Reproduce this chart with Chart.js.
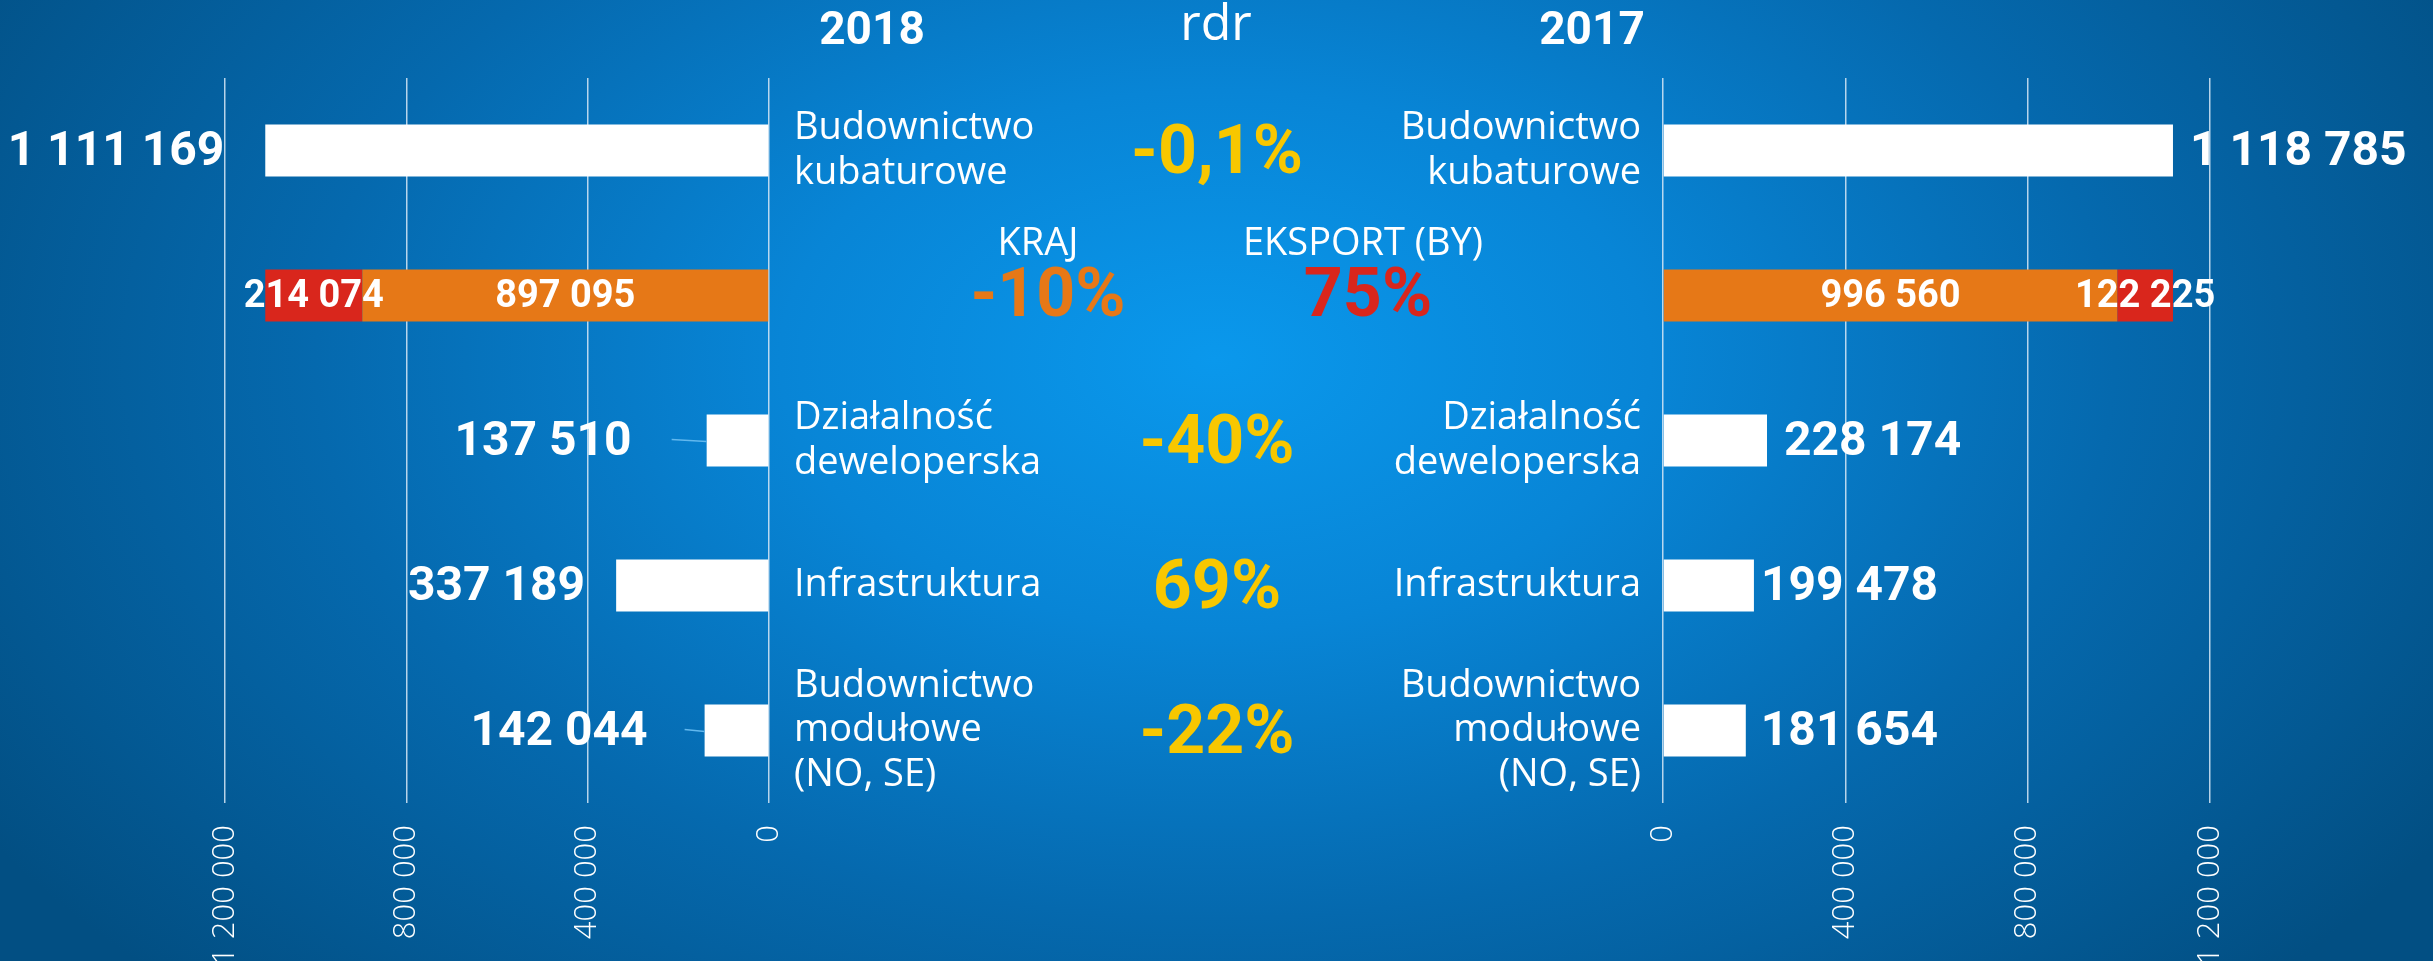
<!DOCTYPE html>
<html>
<head>
<meta charset="utf-8">
<script src="https://cdn.jsdelivr.net/npm/chart.js@4.4.1/dist/chart.umd.min.js"></script>
<style>
  html, body { margin: 0; padding: 0; }
  body {
    width: 2433px; height: 961px; overflow: hidden; position: relative;
    background: radial-gradient(ellipse 1450px 900px at 1215px 360px, #0a98ec 0%, #0885d6 30%, #0569ae 62%, #024f83 100%);
  }
  canvas { position: absolute; left: 0; top: 0; }
</style>
</head>
<body>
<canvas id="chart2018" width="2433" height="961"></canvas>
<canvas id="chart2017" width="2433" height="961"></canvas>
<script>
const categories = [['Budownictwo', 'kubaturowe'], '', ['Działalność', 'deweloperska'], 'Infrastruktura', ['Budownictwo', 'modułowe', '(NO, SE)']];
const seriesNames = ['KRAJ', 'EKSPORT (BY)'];
const total2018 = [1111169, null, 137510, 337189, 142044];
const kraj2018 = [null, 897095, null, null, null];
const eksport2018 = [null, 214074, null, null, null];
const total2017 = [1118785, null, 228174, 199478, 181654];
const kraj2017 = [null, 996560, null, null, null];
const eksport2017 = [null, 122225, null, null, null];
const xTicks = [0, 400000, 800000, 1200000];
const rdr = ['-0,1%', null, '-40%', '69%', '-22%'];
const rdrKraj = '-10%';
const rdrEksport = '75%';
const headers = ['2018', 'rdr', '2017'];

const WHITE = '#ffffff';
const ORANGE = '#e67817';
const RED = '#d9261c';
const YELLOW = '#f8c700';
const LIGHT = '"Open Sans", "DejaVu Sans", sans-serif';
const BOLD = 'Roboto, sans-serif';

const fmt = v => String(v).replace(/\B(?=(\d{3})+(?!\d))/g, ' ');

// labels next to / inside the bars
const valueLabels = {
  id: 'valueLabels',
  afterDatasetsDraw(chart, args, opts) {
    const ctx = chart.ctx;
    const dir = opts.side === 'left' ? -1 : 1;
    ctx.save();
    ctx.fillStyle = WHITE;
    ctx.textBaseline = 'middle';
    chart.data.datasets.forEach((ds, di) => {
      chart.getDatasetMeta(di).data.forEach((bar, i) => {
        const v = ds.data[i];
        if (v == null) return;
        if (ds.inside) {
          ctx.font = 'bold 38px ' + BOLD;
          ctx.textAlign = 'center';
          ctx.fillText(fmt(v), (bar.x + bar.base) / 2, bar.y + 2);
        } else {
          ctx.font = 'bold 48px ' + BOLD;
          ctx.textAlign = dir < 0 ? 'right' : 'left';
          ctx.fillText(fmt(v), bar.x + dir * opts.gaps[i], bar.y + 2);
          if (opts.leaders[i]) {
            ctx.strokeStyle = '#62b8ee';
            ctx.lineWidth = 1.5;
            ctx.beginPath();
            ctx.moveTo(bar.x + dir * opts.leaders[i], bar.y - 1);
            ctx.lineTo(bar.x, bar.y + 1);
            ctx.stroke();
          }
        }
      });
    });
    ctx.restore();
  }
};

// headers and year-on-year changes in the middle
const middleText = {
  id: 'middleText',
  afterDraw(chart) {
    const ctx = chart.ctx;
    const y = chart.scales.y;
    ctx.save();
    ctx.textAlign = 'center';
    ctx.textBaseline = 'middle';
    ctx.fillStyle = WHITE;
    ctx.font = 'bold 46px ' + BOLD;
    ctx.fillText(headers[0], 872, 32);
    ctx.fillText(headers[2], 1592, 32);
    ctx.font = '50px ' + LIGHT;
    ctx.fillText(headers[1], 1216, 26);

    ctx.font = 'bold 68px ' + BOLD;
    ctx.fillStyle = YELLOW;
    rdr.forEach((t, i) => {
      if (t) ctx.fillText(t, 1217, y.getPixelForValue(i) + 5);
    });
    const y2 = y.getPixelForValue(1);
    ctx.fillStyle = ORANGE;
    ctx.fillText(rdrKraj, 1048, y2 + 3);
    ctx.fillStyle = RED;
    ctx.fillText(rdrEksport, 1368, y2 + 3);
    ctx.fillStyle = WHITE;
    ctx.font = '38px ' + LIGHT;
    ctx.fillText(seriesNames[0], 1038, y2 - 51);
    ctx.fillText(seriesNames[1], 1363, y2 - 51);
    ctx.restore();
  }
};

function makeChart(id, total, kraj, eksport, side) {
  const left = side === 'left';
  return new Chart(document.getElementById(id), {
    type: 'bar',
    data: {
      labels: categories,
      datasets: [
        { label: 'razem', data: total, backgroundColor: WHITE },
        { label: seriesNames[0], data: kraj, backgroundColor: ORANGE, inside: true },
        { label: seriesNames[1], data: eksport, backgroundColor: RED, inside: true }
      ]
    },
    options: {
      indexAxis: 'y',
      responsive: false,
      animation: false,
      layout: { padding: left ? { left: 225, top: 78, right: 0, bottom: 0 } : { left: 0, top: 78, right: 223, bottom: 0 } },
      datasets: { bar: { categoryPercentage: 1, barPercentage: 0.36 } },
      scales: {
        x: {
          stacked: true,
          reverse: left,
          min: 0,
          max: 1200000,
          afterBuildTicks: s => { s.ticks = xTicks.map(v => ({ value: v })); },
          afterFit: s => { s.height = 158; s.paddingLeft = 0; s.paddingRight = 0; },
          border: { display: false },
          grid: { color: 'rgba(215,232,246,0.85)', lineWidth: 1.5, drawTicks: false },
          ticks: {
            color: WHITE,
            padding: 22,
            minRotation: 90,
            maxRotation: 90,
            font: { family: LIGHT, size: 31, weight: 300 },
            callback: v => fmt(v)
          }
        },
        y: {
          stacked: true,
          position: left ? 'right' : 'left',
          afterFit: s => { s.width = left ? 2433 - 769 : 1663; s.paddingTop = 0; s.paddingBottom = 0; },
          border: { display: false },
          grid: { display: false, drawTicks: false },
          ticks: {
            color: WHITE,
            padding: left ? 25 : 22,
            font: { family: LIGHT, size: 38, weight: 'normal', lineHeight: 1.17 }
          }
        }
      },
      plugins: {
        legend: { display: false },
        tooltip: { enabled: false },
        valueLabels: left
          ? { side: 'left', gaps: [41, 0, 75, 31, 57], leaders: [0, 0, 35, 0, 20] }
          : { side: 'right', gaps: [17, 0, 17, 7, 15], leaders: [0, 0, 0, 0, 0] }
      }
    },
    plugins: left ? [valueLabels, middleText] : [valueLabels]
  });
}

makeChart('chart2018', total2018, kraj2018, eksport2018, 'left');
makeChart('chart2017', total2017, kraj2017, eksport2017, 'right');
</script>
</body>
</html>
